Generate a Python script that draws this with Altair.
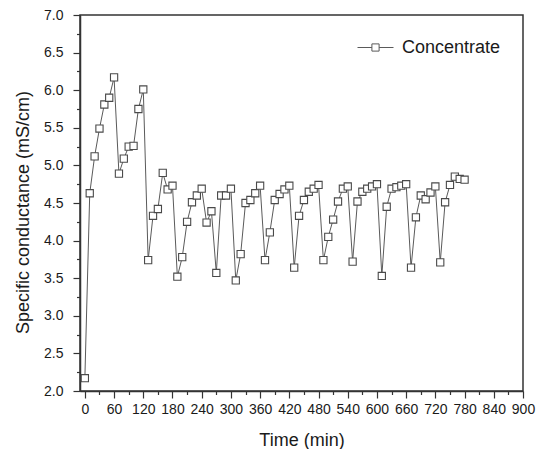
import altair as alt
import pandas as pd

# ---- data ----
time_min = [0, 10, 20, 30, 40, 50, 60, 70, 80, 90, 100, 110, 120, 130, 140, 150,
            160, 170, 180, 190, 200, 210, 220, 230, 240, 250, 260, 270, 280, 290,
            300, 310, 320, 330, 340, 350, 360, 370, 380, 390, 400, 410, 420, 430,
            440, 450, 460, 470, 480, 490, 500, 510, 520, 530, 540, 550, 560, 570,
            580, 590, 600, 610, 620, 630, 640, 650, 660, 670, 680, 690, 700, 710,
            720, 730, 740, 750, 760, 770, 780]
conductance = [2.17, 4.63, 5.12, 5.49, 5.81, 5.90, 6.17, 4.89, 5.09, 5.25, 5.26, 5.75,
               6.01, 3.74, 4.33, 4.42, 4.90, 4.68, 4.73, 3.52, 3.78, 4.25, 4.51, 4.60,
               4.69, 4.24, 4.39, 3.57, 4.60, 4.60, 4.69, 3.47, 3.82, 4.50, 4.54, 4.63,
               4.73, 3.74, 4.11, 4.54, 4.62, 4.68, 4.73, 3.64, 4.33, 4.54, 4.65, 4.69,
               4.74, 3.74, 4.05, 4.28, 4.52, 4.69, 4.72, 3.72, 4.52, 4.65, 4.69, 4.72,
               4.75, 3.53, 4.45, 4.69, 4.71, 4.73, 4.75, 3.64, 4.31, 4.60, 4.55, 4.64,
               4.72, 3.71, 4.51, 4.74, 4.85, 4.82, 4.81]
series_name = "Concentrate"

x_tick_values = [0, 30, 60, 90, 120, 150, 180, 210, 240, 270, 300, 330, 360, 390,
                 420, 450, 480, 510, 540, 570, 600, 630, 660, 690, 720, 750, 780,
                 810, 840, 870, 900]
y_tick_values = [2.0, 2.25, 2.5, 2.75, 3.0, 3.25, 3.5, 3.75, 4.0, 4.25, 4.5, 4.75,
                 5.0, 5.25, 5.5, 5.75, 6.0, 6.25, 6.5, 6.75, 7.0]

df = pd.DataFrame({"time": time_min, "value": conductance,
                   "series": [series_name] * len(time_min)})

FONT = "Liberation Sans"
AX = "#333333"
LINE = "#5a5a5a"
TXT = "#1a1a1a"

x_enc = alt.X(
    "time:Q",
    scale=alt.Scale(domain=[-10, 900], nice=False, zero=False),
    axis=alt.Axis(
        values=x_tick_values,
        title="Time (min)",
        labelExpr="datum.value % 60 === 0 ? datum.label : ''",
        tickSize={"condition": {"test": "datum.value % 60 === 0", "value": 7}, "value": 3.5},
        labelOverlap=False,
        labelFlush=False,
        labelPadding=4,
        labelFont=FONT, labelFontSize=14, labelColor=TXT,
        titleFont=FONT, titleFontSize=18, titleColor=TXT, titleFontWeight="normal",
        domainColor=AX, domainWidth=1.5, tickColor=AX, tickWidth=1.2,
        grid=False,
        titleY=54,
        titleBaseline="alphabetic",
    ),
)
y_enc = alt.Y(
    "value:Q",
    scale=alt.Scale(domain=[2, 7], nice=False, zero=False),
    axis=alt.Axis(
        values=y_tick_values,
        format=".1f",
        title="Specific conductance (mS/cm)",
        labelExpr="round(datum.value * 4) % 2 === 0 ? datum.label : ''",
        tickSize={"condition": {"test": "round(datum.value * 4) % 2 === 0", "value": 7}, "value": 3.5},
        labelOverlap=False,
        labelFlush=False,
        labelPadding=10,
        labelFont=FONT, labelFontSize=14, labelColor=TXT,
        titleFont=FONT, titleFontSize=18, titleColor=TXT, titleFontWeight="normal",
        domainColor=AX, domainWidth=1.5, tickColor=AX, tickWidth=1.2,
        grid=False,
        titleX=-52,
        titleY=197,
        titleBaseline="alphabetic",
    ),
)

base = alt.Chart(df).encode(x=x_enc, y=y_enc)

line = base.mark_line(strokeWidth=1).encode(
    color=alt.Color(
        "series:N",
        scale=alt.Scale(range=[LINE]),
        legend=alt.Legend(
            title=None,
            orient="none",
            legendX=277,
            legendY=14,
            padding=0,
            symbolType="M-1,0H-0.2M0.2,0H1M-0.2,-0.2H0.2V0.2H-0.2Z",
            symbolSize=1296,
            symbolStrokeWidth=1,
            symbolStrokeColor=LINE,
            symbolFillColor="white",
            labelFontSize=18,
            labelFont=FONT,
            labelColor=TXT,
            labelOffset=8,
        ),
    ),
)

points = base.mark_point(
    shape="square", size=52, filled=True, fill="white", stroke="#4a4a4a",
    strokeWidth=1.1, opacity=1,
)

chart = alt.layer(line, points).properties(
    width=443,
    height=376,
    autosize=alt.AutoSizeParams(type="none"),
    padding={"left": 80, "top": 15, "right": 17, "bottom": 58},
    background="white",
).configure_view(
    stroke=AX, strokeWidth=1.5,
)

chart.save("out.html", embed_options={"renderer": "svg", "actions": False})
